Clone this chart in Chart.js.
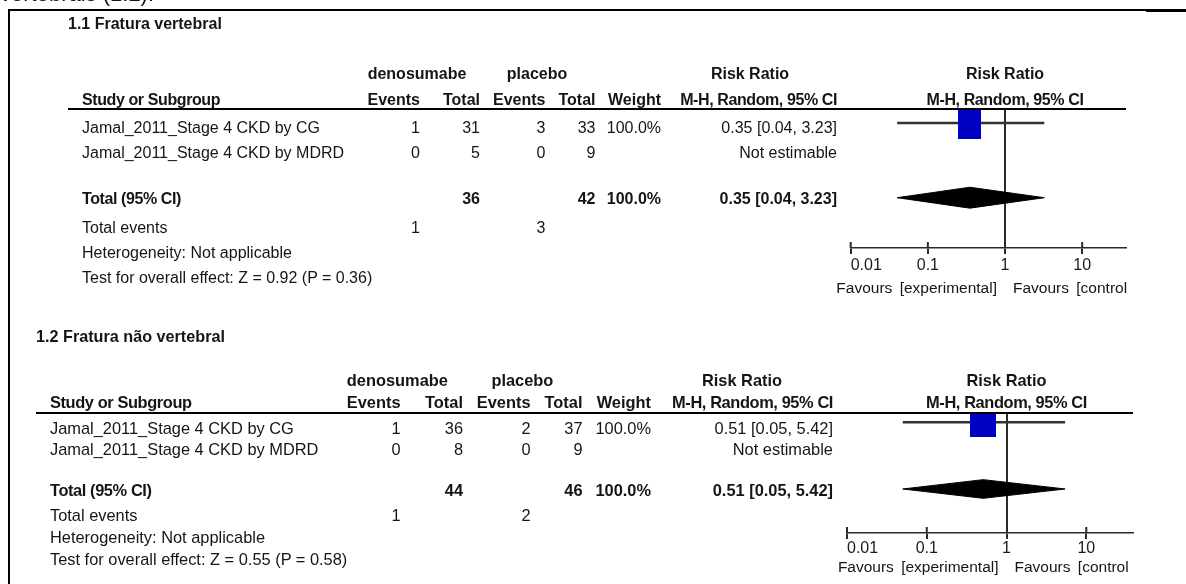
<!DOCTYPE html>
<html>
<head>
<meta charset="utf-8">
<script src="https://cdn.jsdelivr.net/npm/chart.js@4.4.1/dist/chart.umd.min.js"></script>
<style>
html,body{margin:0;padding:0;background:#fff;}
#page{position:relative;width:1186px;height:584px;overflow:hidden;background:#fff;
  font-family:'Liberation Sans',Arial,sans-serif;color:#151515;}
.t{position:absolute;white-space:nowrap;font-size:16px;line-height:20px;}
.b{font-weight:bold;}
.bc{font-weight:bold;letter-spacing:-0.4px;}
canvas{position:absolute;left:0;}
.rule{position:absolute;background:#000;}
</style>
</head>
<body>
<div id="page">
  <canvas id="c1" width="1186" height="300" style="top:0px"></canvas>
  <canvas id="c2" width="1186" height="284" style="top:300px"></canvas>
</div>
<script>
// ---------------- DATA ----------------
const panelTitles = ['1.1 Fratura vertebral', '1.2 Fratura não vertebral'];
const studies = ['Jamal_2011_Stage 4 CKD by CG', 'Jamal_2011_Stage 4 CKD by MDRD'];
const groupLabels = ['denosumabe', 'placebo'];
const colHeaders = ['Study or Subgroup', 'Events', 'Total', 'Events', 'Total', 'Weight', 'M-H, Random, 95% CI'];
const effectHeader = 'Risk Ratio';

// 1.1 Fratura vertebral
const p1DenoEvents = [1, 0];
const p1DenoTotal = [31, 5];
const p1PlacEvents = [3, 0];
const p1PlacTotal = [33, 9];
const p1Weight = [100.0, null];
const p1RR = [0.35, null];
const p1Low = [0.04, null];
const p1High = [3.23, null];
const p1Overall = [0.35, 0.04, 3.23];      // RR, lower, upper
const p1TotalN = [36, 42];
const p1TotalEvents = [1, 3];
const p1Test = [0.92, 0.36];               // Z, P

// 1.2 Fratura não vertebral
const p2DenoEvents = [1, 0];
const p2DenoTotal = [36, 8];
const p2PlacEvents = [2, 0];
const p2PlacTotal = [37, 9];
const p2Weight = [100.0, null];
const p2RR = [0.51, null];
const p2Low = [0.05, null];
const p2High = [5.42, null];
const p2Overall = [0.51, 0.05, 5.42];
const p2TotalN = [44, 46];
const p2TotalEvents = [1, 2];
const p2Test = [0.55, 0.58];

const tickValues = [0.01, 0.1, 1, 10];
const tickLabels = ['0.01', '0.1', '1', '10'];
const favoursLabels = ['Favours [experimental]', 'Favours [control'];

// ---------------- LAYOUT ----------------
const panels = [
  { canvas: 'c1', pageTop: 0, height: 300, title: panelTitles[0],
    de: p1DenoEvents, dt: p1DenoTotal, pe: p1PlacEvents, pt: p1PlacTotal, w: p1Weight,
    rr: p1RR, lo: p1Low, hi: p1High, overall: p1Overall, totN: p1TotalN, totE: p1TotalEvents, test: p1Test,
    area: {left: 850.7, right: 1126, top: 110, bottom: 248}, yMin: -0.522, yMax: 5.02, axisMax: 37,
    tickPad: 2, box: {w: 23, h: 29, shift: 1.5}, font: 16, titleSize: 16,
    titleX: 68, titleY: 24, textX: 82, ruleX: 68, ruleY: 108,
    groupY: 74, headY: 99.5, rowY: [128, 153], totalY: 199, eventsY: 228, hetY: 253, testY: 278, favY: 288,
    col: {e1: 420, t1: 480, e2: 545.5, t2: 595.5, w: 661, ci: 837}, groupX: [417, 537], rrX: 750 },
  { canvas: 'c2', pageTop: 300, height: 284, title: panelTitles[1],
    de: p2DenoEvents, dt: p2DenoTotal, pe: p2PlacEvents, pt: p2PlacTotal, w: p2Weight,
    rr: p2RR, lo: p2Low, hi: p2High, overall: p2Overall, totN: p2TotalN, totE: p2TotalEvents, test: p2Test,
    area: {left: 847, right: 1133, top: 412.5, bottom: 533}, yMin: -0.44, yMax: 4.98, axisMax: 38.5,
    tickPad: 0, box: {w: 26, h: 25, shift: 2}, font: 16.4, titleSize: 16.2,
    titleX: 36, titleY: 335.7, textX: 50, ruleX: 36, ruleY: 411.5,
    groupY: 380, headY: 402.3, rowY: [427.7, 449.3], totalY: 490, eventsY: 515, hetY: 537.3, testY: 559.3, favY: 567,
    col: {e1: 400.5, t1: 463, e2: 530.5, t2: 582.5, w: 651, ci: 833}, groupX: [397.4, 522.4], rrX: 742 }
];

const FONT = "'Liberation Sans', Arial, sans-serif";
Chart.defaults.font.family = FONT;
const page = document.getElementById('page');

function put(str, x, cy, align, cls, size) {
  const el = document.createElement('div');
  el.className = 't' + (cls ? ' ' + cls : '');
  el.textContent = str;
  el.style.left = x + 'px';
  el.style.top = (cy - 10) + 'px';
  if (size) el.style.fontSize = size + 'px';
  if (align === 'right') el.style.transform = 'translateX(-100%)';
  else if (align === 'center') el.style.transform = 'translateX(-50%)';
  page.appendChild(el);
  return el;
}
function rule(x, y, w, h) {
  const el = document.createElement('div');
  el.className = 'rule';
  el.style.left = x + 'px'; el.style.top = y + 'px';
  el.style.width = w + 'px'; el.style.height = h + 'px';
  page.appendChild(el);
}
function fmtCI(r, l, h) {
  return r == null ? 'Not estimable' : r.toFixed(2) + ' [' + l.toFixed(2) + ', ' + h.toFixed(2) + ']';
}
function boxSprite(b) {
  const c = document.createElement('canvas');
  c.width = b.w; c.height = Math.round(b.h + 2 * b.shift);
  const g = c.getContext('2d');
  g.fillStyle = '#0000c4';
  g.fillRect(0, c.height - b.h, b.w, b.h);
  return c;
}

const tickUpPlugin = {
  id: 'tickUp',
  afterDraw(chart) {
    const s = chart.scales.x, ctx = chart.ctx, yb = chart.chartArea.bottom;
    ctx.save();
    ctx.strokeStyle = '#2a2a2a'; ctx.lineWidth = 2;
    tickValues.forEach(v => {
      if (v === 1) return;
      const px = s.getPixelForValue(v);
      ctx.beginPath(); ctx.moveTo(px, yb - 6); ctx.lineTo(px, yb); ctx.stroke();
    });
    ctx.restore();
  }
};
const diamondPlugin = {
  id: 'diamondFill',
  afterDatasetsDraw(chart) {
    const ctx = chart.ctx;
    chart.data.datasets.forEach((ds, i) => {
      if (!ds.isDiamond) return;
      const pts = chart.getDatasetMeta(i).data;
      ctx.save();
      ctx.beginPath();
      pts.forEach((p, j) => j ? ctx.lineTo(p.x, p.y) : ctx.moveTo(p.x, p.y));
      ctx.closePath();
      ctx.fillStyle = '#000';
      ctx.fill();
      ctx.restore();
    });
  }
};

// frame of the page (document table border)
rule(8, 9, 1138, 1.5);
rule(1146, 9, 40, 2.5);
rule(8, 9, 2, 580);
// document text above the figure (cut by the page edge)
const cut = put('vertebrais (1.2).', 0, -9, 'left', '', 22);
cut.style.lineHeight = '26px';

panels.forEach(P => {
  const A = P.area;
  const rows = studies.length;
  const totalRow = rows + 1;

  // ---- datasets from data arrays ----
  const datasets = [];
  P.rr.forEach((r, i) => {
    if (r == null) return;
    datasets.push({ type: 'line', data: [{x: P.lo[i], y: i}, {x: P.hi[i], y: i}],
      borderColor: '#333', borderWidth: 2.5, pointRadius: 0, fill: false, order: 3 });
  });
  const est = [];
  P.rr.forEach((r, i) => { if (r != null) est.push({x: r, y: i}); });
  datasets.push({ type: 'scatter', data: est, pointStyle: boxSprite(P.box), pointRadius: 5, order: 2 });
  const dh = 0.42;
  datasets.push({ type: 'line', isDiamond: true, tension: 0,
    data: [{x: P.overall[1], y: totalRow}, {x: P.overall[0], y: totalRow - dh},
           {x: P.overall[2], y: totalRow}, {x: P.overall[0], y: totalRow + dh},
           {x: P.overall[1], y: totalRow}],
    borderColor: '#000', borderWidth: 1, pointRadius: 0, fill: false, order: 1 });

  const axisMax = P.axisMax;
  const chart = new Chart(document.getElementById(P.canvas), {
    type: 'scatter',
    data: { datasets },
    options: {
      responsive: false, animation: false, events: [],
      layout: { padding: { left: A.left, right: 1186 - A.right, top: A.top - P.pageTop, bottom: 0 } },
      plugins: { legend: { display: false }, tooltip: { enabled: false } },
      scales: {
        x: {
          type: 'logarithmic', min: 0.01, max: axisMax, position: 'bottom',
          afterBuildTicks: s => { s.ticks = tickValues.concat([axisMax]).map(v => ({ value: v })); },
          afterFit: s => { s.height = P.height - (A.bottom - P.pageTop); },
          ticks: {
            autoSkip: false, maxRotation: 0, minRotation: 0, align: 'inner', padding: P.tickPad,
            color: '#1a1a1a', font: { size: 16, family: FONT },
            callback: (v, i) => i < tickLabels.length ? tickLabels[i] : ''
          },
          grid: {
            drawOnChartArea: true, drawTicks: true, tickLength: 6,
            color: c => (c.tick && c.tick.value === 1) ? '#2a2a2a' : 'rgba(0,0,0,0)',
            lineWidth: 2,
            tickColor: c => (c.tick && c.tick.value !== axisMax) ? '#2a2a2a' : 'rgba(0,0,0,0)',
            tickWidth: 2
          },
          border: { display: true, color: '#2a2a2a', width: 1.5 }
        },
        y: { type: 'linear', display: false, reverse: true, min: P.yMin, max: P.yMax }
      }
    },
    plugins: [tickUpPlugin, diamondPlugin]
  });

  const x1 = chart.scales.x.getPixelForValue(1);
  const f = P.font;
  const c = P.col;

  // ---- table text ----
  put(P.title, P.titleX, P.titleY, 'left', 'b', P.titleSize);
  put(groupLabels[0], P.groupX[0], P.groupY, 'center', 'b', f);
  put(groupLabels[1], P.groupX[1], P.groupY, 'center', 'b', f);
  put(effectHeader, P.rrX, P.groupY, 'center', 'b', f);
  put(effectHeader, x1, P.groupY, 'center', 'b', f);

  put(colHeaders[0], P.textX, P.headY, 'left', 'bc', f);
  put(colHeaders[1], c.e1, P.headY, 'right', 'b', f);
  put(colHeaders[2], c.t1, P.headY, 'right', 'b', f);
  put(colHeaders[3], c.e2, P.headY, 'right', 'b', f);
  put(colHeaders[4], c.t2, P.headY, 'right', 'b', f);
  put(colHeaders[5], c.w, P.headY, 'right', 'b', f);
  put(colHeaders[6], c.ci, P.headY, 'right', 'bc', f);
  put(colHeaders[6], x1, P.headY, 'center', 'bc', f);
  rule(P.ruleX, P.ruleY, A.right - P.ruleX, 2);

  studies.forEach((s, i) => {
    const y = P.rowY[i];
    put(s, P.textX, y, 'left', '', f);
    put(String(P.de[i]), c.e1, y, 'right', '', f);
    put(String(P.dt[i]), c.t1, y, 'right', '', f);
    put(String(P.pe[i]), c.e2, y, 'right', '', f);
    put(String(P.pt[i]), c.t2, y, 'right', '', f);
    if (P.w[i] != null) put(P.w[i].toFixed(1) + '%', c.w, y, 'right', '', f);
    put(fmtCI(P.rr[i], P.lo[i], P.hi[i]), c.ci, y, 'right', '', f);
  });

  put('Total (95% CI)', P.textX, P.totalY, 'left', 'bc', f);
  put(String(P.totN[0]), c.t1, P.totalY, 'right', 'b', f);
  put(String(P.totN[1]), c.t2, P.totalY, 'right', 'b', f);
  put('100.0%', c.w, P.totalY, 'right', 'b', f);
  put(fmtCI(P.overall[0], P.overall[1], P.overall[2]), c.ci, P.totalY, 'right', 'b', f);

  put('Total events', P.textX, P.eventsY, 'left', '', f);
  put(String(P.totE[0]), c.e1, P.eventsY, 'right', '', f);
  put(String(P.totE[1]), c.e2, P.eventsY, 'right', '', f);
  put('Heterogeneity: Not applicable', P.textX, P.hetY, 'left', '', f);
  put('Test for overall effect: Z = ' + P.test[0].toFixed(2) + ' (P = ' + P.test[1].toFixed(2) + ')',
      P.textX, P.testY, 'left', '', f);

  const fe = put(favoursLabels[0], x1 - 8, P.favY, 'right', '', 15.5);
  const fc = put(favoursLabels[1], x1 + 8, P.favY, 'left', '', 15.5);
  fe.style.wordSpacing = '3px'; fc.style.wordSpacing = '3px';
});
</script>
</body>
</html>
